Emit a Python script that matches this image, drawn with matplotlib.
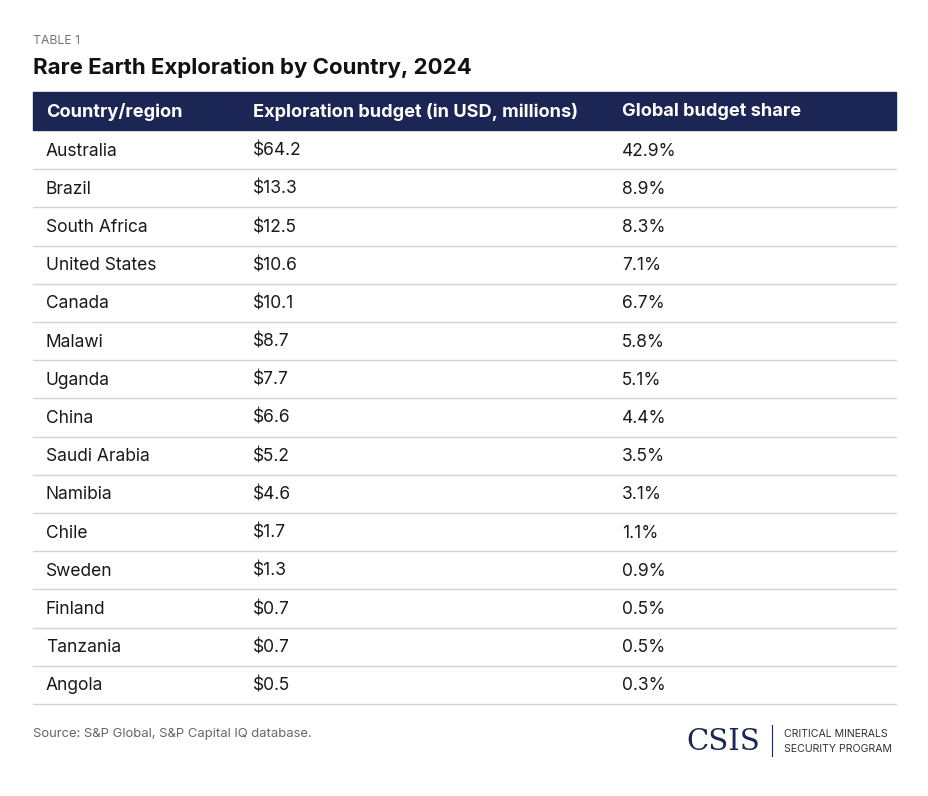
import matplotlib.pyplot as plt
from matplotlib.patches import Rectangle

countries = ["Australia", "Brazil", "South Africa", "United States", "Canada", "Malawi",
             "Uganda", "China", "Saudi Arabia", "Namibia", "Chile", "Sweden", "Finland",
             "Tanzania", "Angola"]
budget = [64.2, 13.3, 12.5, 10.6, 10.1, 8.7, 7.7, 6.6, 5.2, 4.6, 1.7, 1.3, 0.7, 0.7, 0.5]
share = [42.9, 8.9, 8.3, 7.1, 6.7, 5.8, 5.1, 4.4, 3.5, 3.1, 1.1, 0.9, 0.5, 0.5, 0.3]
headers = ["Country/region", "Exploration budget (in USD, millions)", "Global budget share"]

W, H = 929, 796
fig = plt.figure(figsize=(W / 100, H / 100), dpi=100)
ax = fig.add_axes([0, 0, 1, 1])
ax.set_xlim(0, W)
ax.set_ylim(H, 0)
ax.axis("off")

font = "Inter"
navy = "#1c2655"
col_x = [46, 253, 622]

ax.text(33, 41, "TABLE 1", fontsize=8.8, color="#777777", va="center", family=font)
ax.text(33, 68, "Rare Earth Exploration by Country, 2024", fontsize=16, weight="bold",
        color="#111111", va="center", family=font)

ax.add_patch(Rectangle((33, 92), 863, 38, color=navy))
for x, h in zip(col_x, headers):
    ax.text(x, 112, h, fontsize=13.1, weight="bold", color="white", va="center", family=font)

row_h = 38.2
top = 131
for i, (c, b, s) in enumerate(zip(countries, budget, share)):
    yc = top + row_h * (i + 0.5) + 1
    ax.text(col_x[0], yc, c, fontsize=12.5, color="#1a1a1a", va="center", family=font)
    ax.text(col_x[1], yc, f"${b:.1f}", fontsize=12.5, color="#1a1a1a", va="center", family=font)
    ax.text(col_x[2], yc, f"{s:.1f}%", fontsize=12.5, color="#1a1a1a", va="center", family=font)
    ax.plot([33, 896], [top + row_h * (i + 1)] * 2, color="#d4d4d4", lw=1)

ax.text(33, 734, "Source: S&P Global, S&P Capital IQ database.", fontsize=9.4,
        color="#666666", va="center", family=font)

ax.text(760, 742, "CSIS", fontsize=21, family="DejaVu Serif", color=navy, va="center", ha="right")
ax.plot([772, 772], [725, 756], color=navy, lw=0.8)
ax.text(784, 734, "CRITICAL MINERALS", fontsize=7.6, color="#333333", va="center", family=font)
ax.text(784, 749, "SECURITY PROGRAM", fontsize=7.6, color="#333333", va="center", family=font)

fig.savefig("out.png", dpi=100, facecolor="white")
